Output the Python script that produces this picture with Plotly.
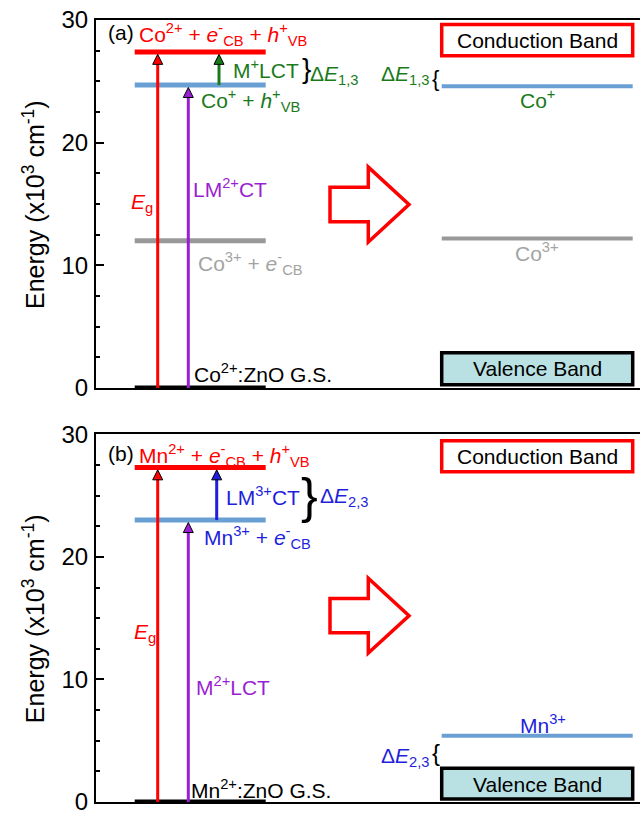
import plotly.graph_objects as go

# ---------------- data (energies in 10^3 cm^-1) ----------------
# Panel (a): Co2+:ZnO
A_LEFT_LEVEL_LABELS = ["Co<sup>2+</sup>:ZnO G.S.",
                       "Co<sup>3+</sup> + <i>e</i><sup>-</sup><sub>CB</sub>",
                       "Co<sup>+</sup> + <i>h</i><sup>+</sup><sub>VB</sub>",
                       "Co<sup>2+</sup> + <i>e</i><sup>-</sup><sub>CB</sub> + <i>h</i><sup>+</sup><sub>VB</sub>"]
A_LEFT_LEVEL_E = [0.0, 12.0, 24.7, 27.4]
A_RIGHT_LEVEL_LABELS = ["Co<sup>3+</sup>", "Co<sup>+</sup>"]
A_RIGHT_LEVEL_E = [12.2, 24.6]
A_TRANS_LABELS = ["<i>E</i><sub>g</sub>", "LM<sup>2+</sup>CT", "M<sup>+</sup>LCT"]
A_TRANS_FROM = [0.0, 0.0, 24.7]
A_TRANS_TO = [27.4, 24.7, 27.4]
A_GAP_LABEL = "Δ<i>E</i><sub>1,3</sub>"

# Panel (b): Mn2+:ZnO
B_LEFT_LEVEL_LABELS = ["Mn<sup>2+</sup>:ZnO G.S.",
                       "Mn<sup>3+</sup> + <i>e</i><sup>-</sup><sub>CB</sub>",
                       "Mn<sup>2+</sup> + <i>e</i><sup>-</sup><sub>CB</sub> + <i>h</i><sup>+</sup><sub>VB</sub>"]
B_LEFT_LEVEL_E = [0.0, 23.0, 27.3]
B_RIGHT_LEVEL_LABELS = ["Mn<sup>3+</sup>"]
B_RIGHT_LEVEL_E = [5.4]
B_TRANS_LABELS = ["<i>E</i><sub>g</sub>", "M<sup>2+</sup>LCT", "LM<sup>3+</sup>CT"]
B_TRANS_FROM = [0.0, 0.0, 23.0]
B_TRANS_TO = [27.3, 23.0, 27.3]
B_GAP_LABEL = "Δ<i>E</i><sub>2,3</sub>"

Y_TICKS = [0, 10, 20, 30]
Y_TICK_TEXT = ["0", "10", "20", "30"]
PANEL_TAGS = ["(a)", "(b)"]

# ---------------- styles ----------------
RED = "#ff0000"
BLUE_LINE = "#6a9fd4"
GRAY = "#999999"
GRAY_TXT = "#a3a3a3"
GREEN = "#1a7a1a"
PURPLE = "#9a1fd2"
BLUE = "#1f1fdc"
VB_FILL = "#b9e1e4"
FONT = "Liberation Sans, Arial, sans-serif"
FS = 21

LEFT_X = [38.7, 169.7]
RIGHT_X = [345.7, 536.7]

fig = go.Figure()
annotations = []
shapes = []


def ann(text, x, y, xr, yr, color="black", size=FS, xanchor="left", yanchor="middle"):
    annotations.append(dict(text=text, x=x, y=y, xref=xr, yref=yr, showarrow=False,
                            xanchor=xanchor, yanchor=yanchor,
                            font=dict(family=FONT, size=size, color=color)))


def level(xs, e, color, width, xa, ya):
    fig.add_trace(go.Scatter(x=xs, y=[e, e], mode="lines", xaxis=xa, yaxis=ya,
                             line=dict(color=color, width=width), hoverinfo="skip"))


def arrow(x, e0, e1, color, xa, ya):
    fig.add_trace(go.Scatter(x=[x, x], y=[e0, e1 - 0.5], mode="lines", xaxis=xa, yaxis=ya,
                             line=dict(color=color, width=3), hoverinfo="skip"))
    fig.add_trace(go.Scatter(x=[x], y=[e1 - 0.2], mode="markers", xaxis=xa, yaxis=ya,
                             marker=dict(symbol="arrow-up", size=10, color=color,
                                         line=dict(color="black", width=1)),
                             hoverinfo="skip", cliponaxis=False))


def hollow_arrow(yc, xr, yr):
    x0, xb, xt = 234, 272.3, 313
    sh, hh = 1.4, 3.05
    path = (f"M{x0},{yc+sh} L{xb},{yc+sh} L{xb},{yc+hh} L{xt},{yc} "
            f"L{xb},{yc-hh} L{xb},{yc-sh} L{x0},{yc-sh} Z")
    shapes.append(dict(type="path", path=path, xref=xr, yref=yr,
                       line=dict(color=RED, width=3.5), fillcolor="rgba(0,0,0,0)"))


def box(y0, y1, text, edge, fill, xr, yr, ty):
    shapes.append(dict(type="rect", x0=RIGHT_X[0], x1=RIGHT_X[1], y0=y0, y1=y1,
                       xref=xr, yref=yr, line=dict(color=edge, width=3.5), fillcolor=fill))
    ann(text, sum(RIGHT_X) / 2, ty, xr, yr, "black", FS, "center")


# ================= Panel (a) =================
xa, ya, xr, yr = "x", "y", "x", "y"
a_colors = ["black", GRAY, BLUE_LINE, RED]
for e, c in zip(A_LEFT_LEVEL_E, a_colors):
    level(LEFT_X, e, c, 5, xa, ya)
for e, c in zip(A_RIGHT_LEVEL_E, [GRAY, BLUE_LINE]):
    level(RIGHT_X, e, c, 4, xa, ya)
for xpos, e0, e1, c in zip([61.7, 92.3, 123.0], A_TRANS_FROM, A_TRANS_TO, [RED, PURPLE, GREEN]):
    arrow(xpos, e0, e1, c, xa, ya)

ann(PANEL_TAGS[0], 10, 29.0, xr, yr)
ann(A_LEFT_LEVEL_LABELS[3], 41, 28.85, xr, yr, RED)
ann(A_LEFT_LEVEL_LABELS[2], 103, 23.45, xr, yr, GREEN)
ann(A_LEFT_LEVEL_LABELS[1], 100, 10.15, xr, yr, GRAY_TXT)
ann(A_LEFT_LEVEL_LABELS[0], 96, 1.2, xr, yr)
ann(A_TRANS_LABELS[0], 33, 15.05, xr, yr, RED)
ann(A_TRANS_LABELS[1], 95, 16.3, xr, yr, PURPLE)
ann(A_TRANS_LABELS[2], 135, 26.0, xr, yr, GREEN)
ann("}", 204, 26.05, xr, yr, "black", 28)
ann(A_GAP_LABEL, 212, 25.5, xr, yr, GREEN)
ann(A_GAP_LABEL, 335, 25.5, xr, yr, GREEN, FS, "right")
ann("{", 334, 25.2, xr, yr, "black", 22)
ann(A_RIGHT_LEVEL_LABELS[1], 441, 23.6, xr, yr, GREEN, FS, "center")
ann(A_RIGHT_LEVEL_LABELS[0], 441, 11.1, xr, yr, GRAY_TXT, FS, "center")
box(27.08, 29.64, "Conduction Band", RED, "white", xr, yr, 28.36)
box(0.27, 2.89, "Valence Band", "black", VB_FILL, xr, yr, 1.58)
hollow_arrow(14.96, xr, yr)

# ================= Panel (b) =================
xa, ya, xr, yr = "x2", "y2", "x2", "y2"
b_colors = ["black", BLUE_LINE, RED]
for e, c in zip(B_LEFT_LEVEL_E, b_colors):
    level(LEFT_X, e, c, 5, xa, ya)
for e in B_RIGHT_LEVEL_E:
    level(RIGHT_X, e, BLUE_LINE, 4, xa, ya)
for xpos, e0, e1, c in zip([61.7, 92.3, 120.7], B_TRANS_FROM, B_TRANS_TO, [RED, PURPLE, BLUE]):
    arrow(xpos, e0, e1, c, xa, ya)

ann(PANEL_TAGS[1], 10, 28.4, xr, yr)
ann(B_LEFT_LEVEL_LABELS[2], 41, 28.25, xr, yr, RED)
ann(B_LEFT_LEVEL_LABELS[1], 106, 21.55, xr, yr, BLUE)
ann(B_LEFT_LEVEL_LABELS[0], 93, 1.1, xr, yr)
ann(B_TRANS_LABELS[0], 36, 13.75, xr, yr, RED)
ann(B_TRANS_LABELS[1], 98, 9.5, xr, yr, PURPLE)
ann(B_TRANS_LABELS[2], 128, 25.0, xr, yr, BLUE)
ann("}", 203, 24.95, xr, yr, "black", 50)
ann(B_GAP_LABEL, 222, 24.85, xr, yr, BLUE)
ann(B_GAP_LABEL, 335, 3.65, xr, yr, BLUE, FS, "right")
ann("{", 334, 4.0, xr, yr, "black", 24)
ann(B_RIGHT_LEVEL_LABELS[0], 447, 6.4, xr, yr, BLUE, FS, "center")
box(26.94, 29.48, "Conduction Band", RED, "white", xr, yr, 28.2)
box(0.24, 2.75, "Valence Band", "black", VB_FILL, xr, yr, 1.45)
hollow_arrow(15.2, xr, yr)

# y-axis titles
for yr in ["y domain", "y2 domain"]:
    xr = "x domain" if yr == "y domain" else "x2 domain"
    annotations.append(dict(text="Energy (x10<sup>3</sup> cm<sup>-1</sup>)", x=-0.114, y=0.5,
                            xref=xr, yref=yr, showarrow=False, textangle=-90,
                            xanchor="center", yanchor="middle",
                            font=dict(family=FONT, size=25, color="black")))

TOP = [0.5293, 1.0]
BOT = [0.0, 0.4702]
xaxis_style = dict(range=[0, 544], showline=True, linewidth=2, linecolor="black", mirror=True,
                   showticklabels=False, ticks="", showgrid=False, zeroline=False)
yaxis_style = dict(range=[0, 30], showline=True, linewidth=2, linecolor="black",
                   tickvals=Y_TICKS, ticktext=Y_TICK_TEXT, ticks="inside", ticklen=8,
                   tickwidth=2, tickcolor="black",
                   minor=dict(dtick=2.5, ticks="inside", ticklen=4, tickwidth=2, tickcolor="black"),
                   tickfont=dict(family=FONT, size=24, color="black"), ticklabelstandoff=1,
                   ticklabeloverflow="allow",
                   showgrid=False, zeroline=False)

fig.update_layout(
    width=640, height=815,
    margin=dict(l=96, r=0, t=20, b=6),
    paper_bgcolor="white", plot_bgcolor="white",
    showlegend=False,
    xaxis=dict(domain=[0, 1], anchor="y", **xaxis_style),
    yaxis=dict(domain=TOP, anchor="x", **yaxis_style),
    xaxis2=dict(domain=[0, 1], anchor="y2", **xaxis_style),
    yaxis2=dict(domain=BOT, anchor="x2", **yaxis_style),
    annotations=annotations,
    shapes=shapes,
)

fig.write_html("out.html")
